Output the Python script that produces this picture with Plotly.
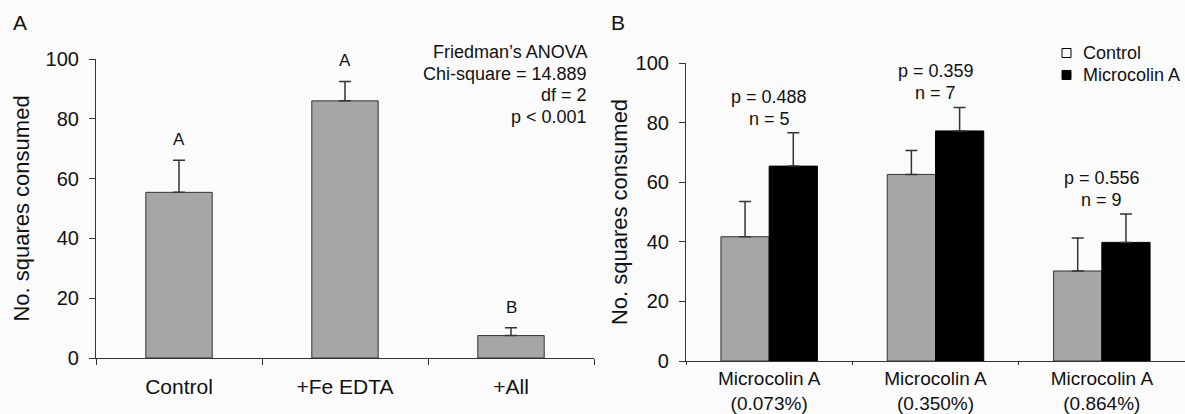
import plotly.graph_objects as go

# ---------------- data ----------------
a_categories = ["Control", "+Fe EDTA", "+All"]
a_means = [55.4, 86.0, 7.5]
a_errors = [10.7, 6.5, 2.6]
a_letters = ["A", "A", "B"]

b_categories = ["Microcolin A<br>(0.073%)", "Microcolin A<br>(0.350%)", "Microcolin A<br>(0.864%)"]
b_control_means = [41.7, 62.6, 30.2]
b_control_errors = [11.8, 8.0, 11.1]
b_micro_means = [65.4, 77.2, 39.8]
b_micro_errors = [11.2, 7.9, 9.5]
b_p_labels = ["p = 0.488", "p = 0.359", "p = 0.556"]
b_n_labels = ["n = 5", "n = 7", "n = 9"]
b_series_names = ["Control", "Microcolin A"]

friedman_lines = ["Friedman\u2019s ANOVA", "Chi-square = 14.889", "df = 2", "p < 0.001"]

y_ticks = [0, 20, 40, 60, 80, 100]

# ---------------- style ----------------
W, H = 1185, 414
FONT = "Liberation Sans, Arial, sans-serif"
TXT = "#111111"
GRAY = "#a6a6a6"
EDGE = "#333333"
BG = "#fbfbfb"


def px(x):
    return x / W


def py(y):
    return 1 - y / H


fig = go.Figure()

fig.add_trace(go.Bar(
    x=a_categories, y=a_means, width=0.4,
    marker=dict(color=GRAY, line=dict(color=EDGE, width=1)),
    error_y=dict(type="data", symmetric=False, array=a_errors,
                 arrayminus=[0] * len(a_errors), color=EDGE, thickness=1.5, width=6),
    showlegend=False, xaxis="x", yaxis="y",
))

fig.add_trace(go.Bar(
    x=b_categories, y=b_control_means, name=b_series_names[0],
    marker=dict(color=GRAY, line=dict(color=EDGE, width=1)),
    error_y=dict(type="data", symmetric=False, array=b_control_errors,
                 arrayminus=[0] * 3, color=EDGE, thickness=1.5, width=6),
    showlegend=False, xaxis="x2", yaxis="y2",
))
fig.add_trace(go.Bar(
    x=b_categories, y=b_micro_means, name=b_series_names[1],
    marker=dict(color="#000000", line=dict(color="#000000", width=1)),
    error_y=dict(type="data", symmetric=False, array=b_micro_errors,
                 arrayminus=[0] * 3, color=EDGE, thickness=1.5, width=6),
    showlegend=False, xaxis="x2", yaxis="y2",
))

annotations = []
shapes = []
# letters panel A
for c, m, e, l in zip(a_categories, a_means, a_errors, a_letters):
    annotations.append(dict(x=c, y=m + e, xref="x", yref="y", text=l, showarrow=False,
                            yanchor="bottom", yshift=9, font=dict(size=17, color=TXT, family=FONT)))
# p / n labels panel B
for c, cm, ce, mm, me, p, n in zip(b_categories, b_control_means, b_control_errors,
                                   b_micro_means, b_micro_errors, b_p_labels, b_n_labels):
    top = max(cm + ce, mm + me)
    annotations.append(dict(x=c, y=top, xref="x2", yref="y2", text=n, showarrow=False,
                            yanchor="bottom", yshift=2, font=dict(size=18, color=TXT, family=FONT)))
    annotations.append(dict(x=c, y=top, xref="x2", yref="y2", text=p, showarrow=False,
                            yanchor="bottom", yshift=24, font=dict(size=18, color=TXT, family=FONT)))
# Friedman text
for i, line in enumerate(friedman_lines):
    annotations.append(dict(x=px(589), y=py(52 + 21.7 * i), xref="paper", yref="paper",
                            text=line, showarrow=False, xanchor="right", yanchor="middle",
                            font=dict(size=18, color=TXT, family=FONT)))
# panel labels
annotations.append(dict(x=px(20), y=py(22), xref="paper", yref="paper", text="A", showarrow=False,
                        xanchor="center", yanchor="middle", font=dict(size=21, color=TXT, family=FONT)))
annotations.append(dict(x=px(618), y=py(22), xref="paper", yref="paper", text="B", showarrow=False,
                        xanchor="center", yanchor="middle", font=dict(size=21, color=TXT, family=FONT)))

# key for panel B (white box = Control, black box = Microcolin A)
key_fill = ["white", "black"]
for i, (name, fill) in enumerate(zip(b_series_names, key_fill)):
    yc = 53 + 22 * i
    shapes.append(dict(type="rect", xref="paper", yref="paper",
                       x0=px(1062), x1=px(1071), y0=py(yc + 4.5), y1=py(yc - 4.5),
                       fillcolor=fill, line=dict(color="black", width=1)))
    annotations.append(dict(x=px(1081), y=py(yc), xref="paper", yref="paper", text=name,
                            showarrow=False, xanchor="left", yanchor="middle",
                            font=dict(size=18, color=TXT, family=FONT)))


def yaxis_style(standoff):
    return dict(range=[0, 100], tickvals=y_ticks, ticks="outside", ticklen=6, tickwidth=1.2,
                tickcolor=EDGE, showline=True, linecolor=EDGE, linewidth=1.2, showgrid=False,
                zeroline=False, automargin=False, ticklabelstandoff=6,
                tickfont=dict(size=20, color=TXT, family=FONT),
                title=dict(text="No. squares consumed", font=dict(size=22, color=TXT, family=FONT),
                           standoff=standoff))


xaxis_common = dict(type="category", tickwidth=1.2, tickcolor=EDGE, ticks="outside",
                    tickson="boundaries", showline=True, linecolor=EDGE, linewidth=1.2,
                    showgrid=False, zeroline=False, automargin=False, range=[-0.5, 2.5])

fig.update_layout(
    width=W, height=H, autosize=False,
    margin=dict(l=0, r=0, t=0, b=0),
    paper_bgcolor=BG, plot_bgcolor=BG,
    barmode="group", bargap=0.42, bargroupgap=0,
    font=dict(family=FONT, color=TXT),
    showlegend=False,
    xaxis=dict(domain=[px(96), px(594)], anchor="y", ticklen=6, ticklabelstandoff=10,
               tickfont=dict(size=21, color=TXT, family=FONT), **xaxis_common),
    yaxis=dict(domain=[py(358), py(59)], anchor="x", **yaxis_style(9)),
    xaxis2=dict(domain=[px(686), 1.0], anchor="y2", ticklen=3,
                tickfont=dict(size=19, color=TXT, family=FONT), **xaxis_common),
    yaxis2=dict(domain=[py(361), py(63)], anchor="x2", **yaxis_style(1)),
    annotations=annotations,
    shapes=shapes,
)

fig.write_html("out.html")
